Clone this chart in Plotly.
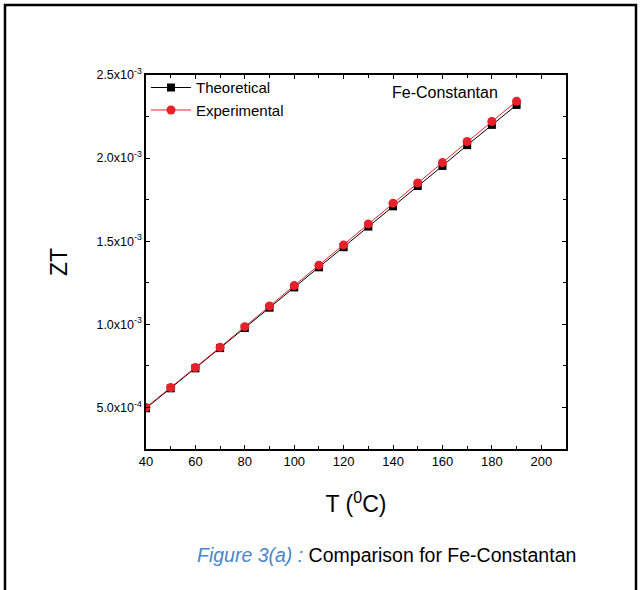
import plotly.graph_objects as go

temperature = [40, 50, 60, 70, 80, 90, 100, 110, 120, 130, 140, 150, 160, 170, 180, 190]
zt_theoretical = [4.95e-4, 6.15e-4, 7.35e-4, 8.57e-4, 9.78e-4, 1.100e-3, 1.222e-3, 1.343e-3,
                  1.464e-3, 1.588e-3, 1.710e-3, 1.832e-3, 1.953e-3, 2.078e-3, 2.200e-3, 2.320e-3]
zt_experimental = [5.00e-4, 6.20e-4, 7.40e-4, 8.62e-4, 9.86e-4, 1.110e-3, 1.233e-3, 1.356e-3,
                   1.478e-3, 1.604e-3, 1.729e-3, 1.850e-3, 1.973e-3, 2.100e-3, 2.220e-3, 2.342e-3]
y_tick_vals = [5e-4, 1e-3, 1.5e-3, 2e-3, 2.5e-3]
y_tick_text = ["5.0x10<sup>-4</sup>", "1.0x10<sup>-3</sup>", "1.5x10<sup>-3</sup>",
               "2.0x10<sup>-3</sup>", "2.5x10<sup>-3</sup>"]

FONT = "Liberation Sans, Arial, sans-serif"

fig = go.Figure()
fig.add_trace(go.Scatter(x=temperature, y=zt_theoretical, name="Theoretical",
                         mode="lines+markers",
                         line=dict(color="black", width=1),
                         marker=dict(symbol="square", size=8, color="black")))
fig.add_trace(go.Scatter(x=temperature, y=zt_experimental, name="Experimental",
                         mode="lines+markers",
                         line=dict(color="#e8202a", width=1),
                         marker=dict(symbol="circle", size=9, color="#e8202a")))

axis_common = dict(showline=True, linecolor="black", linewidth=1.5, mirror="allticks",
                   ticks="inside", ticklen=4, tickcolor="black", showgrid=False, zeroline=False)

fig.update_xaxes(range=[40, 210], tickvals=[40, 60, 80, 100, 120, 140, 160, 180, 200],
                 tickfont=dict(family=FONT, size=13, color="black"),
                 minor=dict(dtick=10, ticks="inside", ticklen=3, tickcolor="black"),
                 title=dict(text="T (<sup>0</sup>C)", font=dict(family=FONT, size=23, color="black"),
                            standoff=28),
                 **axis_common)
fig.update_yaxes(range=[2.5e-4, 2.5e-3], tickvals=y_tick_vals, ticktext=y_tick_text,
                 tickfont=dict(family=FONT, size=12.5, color="black"),
                 minor=dict(tick0=2.5e-4, dtick=2.5e-4, ticks="inside", ticklen=3, tickcolor="black"),
                 title=dict(text="ZT", font=dict(family=FONT, size=23, color="black"), standoff=22),
                 **axis_common)

L, R, T, B = 146, 566, 75, 449
W, H = 642, 590
pw, ph = R - L, B - T

def px_x(x):
    return (x - L) / pw

def px_y(y):
    return (B - y) / ph

fig.add_shape(type="rect", xref="paper", yref="paper",
              x0=px_x(5), x1=px_x(636), y0=px_y(620), y1=px_y(5),
              line=dict(color="black", width=2.5), fillcolor="rgba(0,0,0,0)", layer="below")

fig.add_annotation(xref="paper", yref="paper", x=px_x(445), y=px_y(93),
                   xanchor="center", yanchor="middle",
                   text="Fe-Constantan", showarrow=False,
                   font=dict(family=FONT, size=16, color="black"))
fig.add_annotation(xref="paper", yref="paper", x=px_x(386), y=px_y(555),
                   xanchor="center", yanchor="middle",
                   text="<i><span style='color:#4a86c8'>Figure 3(a) :</span></i> Comparison for Fe-Constantan",
                   showarrow=False, font=dict(family=FONT, size=19.5, color="black"))

fig.update_layout(
    width=W, height=H,
    margin=dict(l=L, r=W - R, t=T, b=H - B),
    paper_bgcolor="white", plot_bgcolor="white",
    showlegend=True,
    legend=dict(x=0.0, y=1.01, xanchor="left", yanchor="top", bgcolor="rgba(0,0,0,0)",
                font=dict(family=FONT, size=15, color="black"), itemwidth=40,
                tracegroupgap=0, borderwidth=0),
)

fig.write_html("out.html")
